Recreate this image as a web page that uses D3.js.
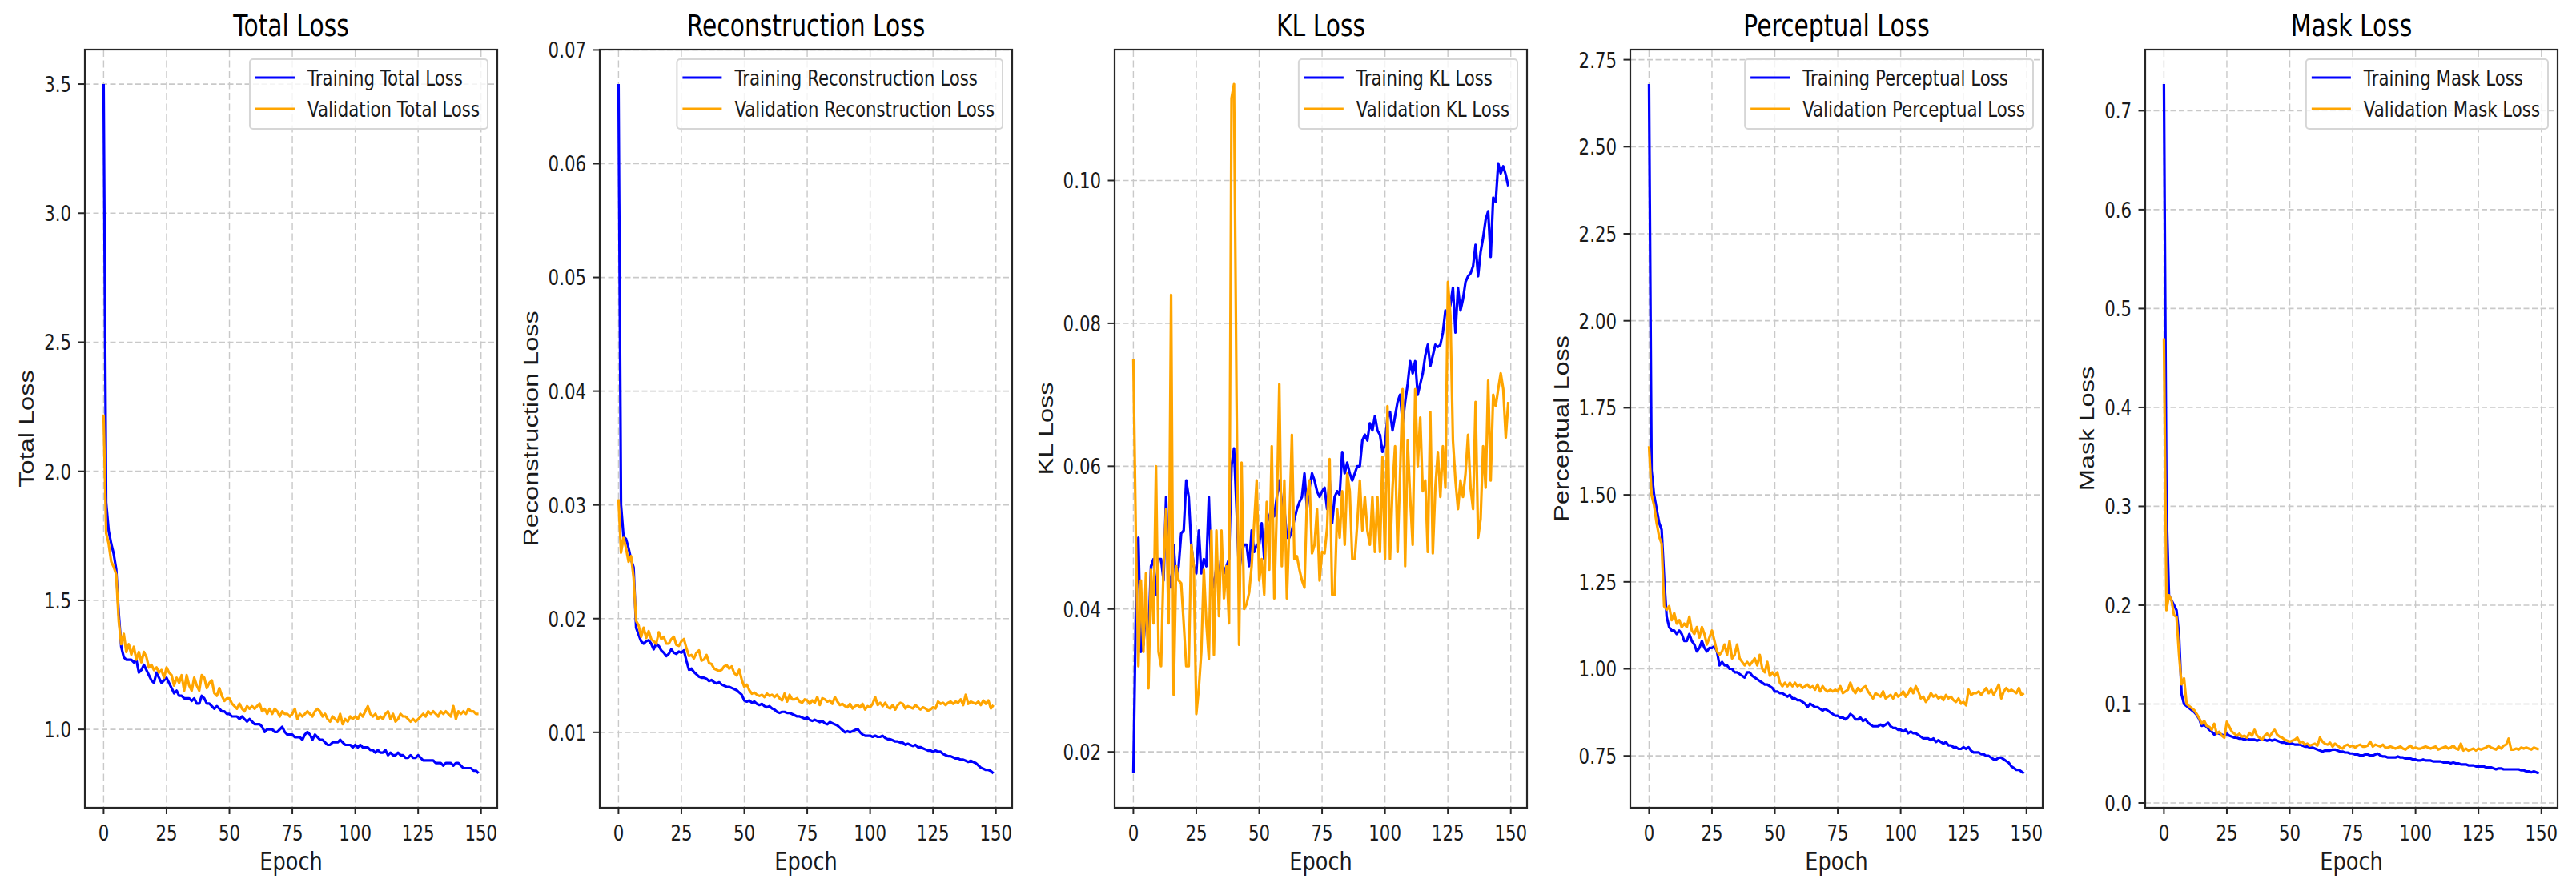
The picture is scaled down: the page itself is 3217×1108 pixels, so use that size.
<!DOCTYPE html>
<html>
<head>
<meta charset="utf-8">
<title>Training and validation losses</title>
<script src="https://d3js.org/d3.v7.min.js"></script>
<style>
  body { margin: 0; background: #fff; }
</style>
</head>
<body>
<svg width="3217" height="1108"></svg>
<script>
// values, one per epoch (0..149)
const totalTrain = [
  3.50, 1.88, 1.77, 1.72, 1.68, 1.62, 1.45, 1.32, 1.28, 1.27,
  1.27, 1.27, 1.26, 1.27, 1.22, 1.23, 1.25, 1.23, 1.21, 1.19,
  1.18, 1.22, 1.20, 1.18, 1.19, 1.20, 1.18, 1.16, 1.14, 1.15,
  1.13, 1.13, 1.12, 1.12, 1.12, 1.11, 1.12, 1.10, 1.10, 1.13,
  1.12, 1.10, 1.10, 1.09, 1.08, 1.09, 1.08, 1.07, 1.07, 1.06,
  1.06, 1.05, 1.05, 1.05, 1.04, 1.05, 1.04, 1.03, 1.04, 1.03,
  1.02, 1.02, 1.02, 1.01, 0.99, 1.00, 1.00, 1.00, 0.99, 0.99,
  1.00, 1.01, 0.99, 0.98, 0.98, 0.98, 0.97, 0.97, 0.97, 0.96,
  0.98, 0.99, 0.98, 0.96, 0.98, 0.97, 0.96, 0.96, 0.95, 0.94,
  0.94, 0.95, 0.95, 0.95, 0.96, 0.95, 0.94, 0.94, 0.94, 0.93,
  0.94, 0.93, 0.94, 0.93, 0.93, 0.93, 0.92, 0.92, 0.91, 0.92,
  0.91, 0.91, 0.92, 0.90, 0.91, 0.90, 0.90, 0.91, 0.90, 0.90,
  0.89, 0.89, 0.90, 0.89, 0.89, 0.90, 0.89, 0.88, 0.88, 0.88,
  0.88, 0.88, 0.87, 0.87, 0.87, 0.86, 0.87, 0.87, 0.87, 0.86,
  0.87, 0.87, 0.86, 0.85, 0.85, 0.85, 0.85, 0.84, 0.84, 0.83
];
const totalVal = [
  2.22, 1.76, 1.72, 1.65, 1.63, 1.60, 1.42, 1.33, 1.37, 1.30,
  1.33, 1.29, 1.32, 1.27, 1.30, 1.26, 1.30, 1.28, 1.24, 1.25,
  1.23, 1.24, 1.22, 1.23, 1.20, 1.24, 1.22, 1.21, 1.17, 1.20,
  1.18, 1.21, 1.15, 1.21, 1.17, 1.15, 1.20, 1.17, 1.15, 1.21,
  1.20, 1.16, 1.18, 1.19, 1.14, 1.13, 1.16, 1.13, 1.11, 1.12,
  1.12, 1.10, 1.09, 1.08, 1.10, 1.08, 1.07, 1.09, 1.08, 1.09,
  1.08, 1.09, 1.10, 1.07, 1.08, 1.06, 1.08, 1.06, 1.08, 1.07,
  1.05, 1.07, 1.06, 1.06, 1.05, 1.06, 1.08, 1.04, 1.06, 1.05,
  1.06, 1.07, 1.06, 1.05, 1.07, 1.08, 1.07, 1.05, 1.06, 1.04,
  1.03, 1.05, 1.04, 1.03, 1.06, 1.02, 1.04, 1.03, 1.05, 1.04,
  1.05, 1.04, 1.06, 1.05, 1.07, 1.09, 1.06, 1.05, 1.06, 1.04,
  1.05, 1.04, 1.06, 1.07, 1.04, 1.06, 1.03, 1.04, 1.06, 1.05,
  1.05, 1.04, 1.03, 1.04, 1.03, 1.04, 1.05, 1.06, 1.05, 1.07,
  1.06, 1.07, 1.06, 1.05, 1.07, 1.06, 1.07, 1.06, 1.05, 1.09,
  1.04, 1.07, 1.06, 1.07, 1.06, 1.08, 1.07, 1.07, 1.06, 1.06
];
const reconTrain = [
  0.0670, 0.0300, 0.0272, 0.0270, 0.0262, 0.0252, 0.0245, 0.0192, 0.0186, 0.0180,
  0.0178, 0.0180, 0.0181, 0.0178, 0.0173, 0.0178, 0.0176, 0.0172, 0.0170, 0.0167,
  0.0169, 0.0173, 0.0170, 0.0169, 0.0171, 0.0170, 0.0172, 0.0163, 0.0155, 0.0156,
  0.0153, 0.0151, 0.0149, 0.0148, 0.0148, 0.0147, 0.0145, 0.0146, 0.0144, 0.0143,
  0.0144, 0.0142, 0.0141, 0.0140, 0.0140, 0.0139, 0.0138, 0.0137, 0.0135, 0.0133,
  0.0128, 0.0127, 0.0128, 0.0126, 0.0127, 0.0125, 0.0124, 0.0125, 0.0123, 0.0122,
  0.0123, 0.0121, 0.0120, 0.0118, 0.0117, 0.0118, 0.0118, 0.0117, 0.0117, 0.0116,
  0.0115, 0.0114, 0.0114, 0.0113, 0.0112, 0.0113, 0.0111, 0.0110, 0.0111, 0.0110,
  0.0109, 0.0110, 0.0108, 0.0107, 0.0109, 0.0108, 0.0107, 0.0106, 0.0104, 0.0102,
  0.0100, 0.0101, 0.0100, 0.0101, 0.0102, 0.0103, 0.0100, 0.0098, 0.0097, 0.0097,
  0.0097, 0.0096, 0.0097, 0.0096, 0.0096, 0.0097, 0.0095, 0.0094, 0.0094, 0.0093,
  0.0092, 0.0092, 0.0091, 0.0091, 0.0089, 0.0090, 0.0089, 0.0088, 0.0089, 0.0087,
  0.0087, 0.0086, 0.0085, 0.0084, 0.0084, 0.0083, 0.0084, 0.0083, 0.0083, 0.0081,
  0.0080, 0.0079, 0.0079, 0.0078, 0.0077, 0.0077, 0.0076, 0.0076, 0.0075, 0.0074,
  0.0075, 0.0074, 0.0073, 0.0071, 0.0069, 0.0068, 0.0067, 0.0067, 0.0066, 0.0064
];
const reconVal = [
  0.0305, 0.0258, 0.0271, 0.0262, 0.0250, 0.0255, 0.0236, 0.0198, 0.0194, 0.0184,
  0.0192, 0.0183, 0.0189, 0.0182, 0.0180, 0.0178, 0.0188, 0.0182, 0.0184, 0.0178,
  0.0178, 0.0182, 0.0184, 0.0177, 0.0176, 0.0180, 0.0182, 0.0174, 0.0167, 0.0168,
  0.0165, 0.0170, 0.0172, 0.0163, 0.0164, 0.0168, 0.0161, 0.0160, 0.0156, 0.0155,
  0.0154, 0.0155, 0.0158, 0.0159, 0.0156, 0.0158, 0.0152, 0.0150, 0.0155, 0.0146,
  0.0140, 0.0142, 0.0137, 0.0134, 0.0135, 0.0133, 0.0132, 0.0133, 0.0131, 0.0134,
  0.0132, 0.0133, 0.0131, 0.0133, 0.0130, 0.0128, 0.0134, 0.0127, 0.0133, 0.0129,
  0.0129, 0.0130, 0.0127, 0.0126, 0.0129, 0.0128, 0.0125, 0.0128, 0.0126, 0.0131,
  0.0124, 0.0130, 0.0129, 0.0127, 0.0128, 0.0125, 0.0131, 0.0127, 0.0124, 0.0125,
  0.0123, 0.0122, 0.0125, 0.0121, 0.0123, 0.0124, 0.0122, 0.0125, 0.0120, 0.0123,
  0.0122, 0.0125, 0.0131, 0.0124, 0.0126, 0.0123, 0.0126, 0.0122, 0.0121, 0.0124,
  0.0120, 0.0124, 0.0126, 0.0125, 0.0121, 0.0123, 0.0122, 0.0121, 0.0124, 0.0122,
  0.0120, 0.0122, 0.0121, 0.0119, 0.0120, 0.0122, 0.0121, 0.0127, 0.0125, 0.0126,
  0.0124, 0.0126, 0.0127, 0.0125, 0.0127, 0.0126, 0.0129, 0.0124, 0.0133, 0.0125,
  0.0127, 0.0126, 0.0125, 0.0127, 0.0124, 0.0128, 0.0125, 0.0128, 0.0121, 0.0124
];
const klTrain = [
  0.0170, 0.0400, 0.0500, 0.0340, 0.0350, 0.0400, 0.0360, 0.0460, 0.0470, 0.0420,
  0.0470, 0.0470, 0.0440, 0.0557, 0.0450, 0.0430, 0.0490, 0.0440, 0.0460, 0.0506,
  0.0510, 0.0580, 0.0557, 0.0490, 0.0460, 0.0450, 0.0510, 0.0450, 0.0470, 0.0460,
  0.0557, 0.0450, 0.0430, 0.0460, 0.0440, 0.0480, 0.0450, 0.0460, 0.0470, 0.0600,
  0.0625, 0.0540, 0.0450, 0.0480, 0.0490, 0.0490, 0.0460, 0.0510, 0.0480, 0.0490,
  0.0490, 0.0520, 0.0470, 0.0520, 0.0530, 0.0540, 0.0530, 0.0557, 0.0580, 0.0550,
  0.0540, 0.0500, 0.0500, 0.0510, 0.0526, 0.0540, 0.0550, 0.0557, 0.0590, 0.0540,
  0.0570, 0.0590, 0.0580, 0.0565, 0.0557, 0.0565, 0.0570, 0.0540, 0.0580, 0.0520,
  0.0557, 0.0565, 0.0560, 0.0620, 0.0590, 0.0605, 0.0590, 0.0580, 0.0590, 0.0600,
  0.0600, 0.0636, 0.0644, 0.0636, 0.0660, 0.0650, 0.0670, 0.0650, 0.0644, 0.0620,
  0.0630, 0.0668, 0.0676, 0.0650, 0.0670, 0.0690, 0.0700, 0.0660, 0.0690, 0.0715,
  0.0747, 0.0730, 0.0747, 0.0700, 0.0715, 0.0730, 0.0755, 0.0770, 0.0740, 0.0755,
  0.0770, 0.0767, 0.0770, 0.0787, 0.0818, 0.0810, 0.0826, 0.0850, 0.0787, 0.0850,
  0.0818, 0.0834, 0.0858, 0.0866, 0.0870, 0.0880, 0.0910, 0.0866, 0.0900, 0.0920,
  0.0945, 0.0957, 0.0893, 0.0976, 0.0970, 0.1024, 0.1010, 0.1020, 0.1008, 0.0992
];
const klVal = [
  0.0750, 0.0500, 0.0320, 0.0440, 0.0340, 0.0450, 0.0289, 0.0455, 0.0380, 0.0600,
  0.0340, 0.0320, 0.0460, 0.0540, 0.0380, 0.0840, 0.0280, 0.0460, 0.0440, 0.0436,
  0.0380, 0.0320, 0.0320, 0.0490, 0.0460, 0.0253, 0.0289, 0.0340, 0.0455, 0.0380,
  0.0330, 0.0510, 0.0336, 0.0510, 0.0390, 0.0510, 0.0415, 0.0460, 0.0380, 0.1115,
  0.1135, 0.0700, 0.0350, 0.0605, 0.0400, 0.0407, 0.0423, 0.0460, 0.0520, 0.0580,
  0.0440, 0.0470, 0.0420, 0.0550, 0.0455, 0.0628, 0.0415, 0.0540, 0.0715, 0.0460,
  0.0580, 0.0415, 0.0520, 0.0644, 0.0470, 0.0474, 0.0455, 0.0440, 0.0430, 0.0557,
  0.0580, 0.0478, 0.0490, 0.0540, 0.0440, 0.0480, 0.0478, 0.0514, 0.0610, 0.0420,
  0.0420, 0.0540, 0.0500, 0.0565, 0.0490, 0.0590, 0.0565, 0.0470, 0.0470, 0.0520,
  0.0580, 0.0510, 0.0557, 0.0510, 0.0490, 0.0557, 0.0480, 0.0557, 0.0480, 0.0613,
  0.0470, 0.0684, 0.0470, 0.0570, 0.0628, 0.0480, 0.0590, 0.0708, 0.0460, 0.0636,
  0.0557, 0.0490, 0.0708, 0.0600, 0.0668, 0.0565, 0.0580, 0.0480, 0.0676, 0.0478,
  0.0570, 0.0620, 0.0557, 0.0628, 0.0570, 0.0858, 0.0810, 0.0636, 0.0580, 0.0540,
  0.0580, 0.0557, 0.0590, 0.0644, 0.0570, 0.0540, 0.0690, 0.0500, 0.0526, 0.0628,
  0.0570, 0.0720, 0.0580, 0.0700, 0.0684, 0.0708, 0.0730, 0.0708, 0.0640, 0.0690
];
const percTrain = [
  2.68, 1.57, 1.50, 1.46, 1.42, 1.40, 1.26, 1.15, 1.12, 1.11,
  1.11, 1.10, 1.11, 1.10, 1.08, 1.08, 1.10, 1.08, 1.07, 1.05,
  1.06, 1.08, 1.06, 1.05, 1.06, 1.06, 1.065, 1.05, 1.01, 1.02,
  1.01, 1.01, 1.00, 1.00, 0.99, 0.99, 0.985, 0.98, 0.975, 0.99,
  0.99, 0.98, 0.975, 0.97, 0.965, 0.96, 0.955, 0.955, 0.95, 0.945,
  0.935, 0.935, 0.93, 0.93, 0.925, 0.92, 0.925, 0.915, 0.915, 0.91,
  0.91, 0.905, 0.90, 0.89, 0.90, 0.895, 0.89, 0.89, 0.885, 0.88,
  0.885, 0.88, 0.875, 0.87, 0.865, 0.865, 0.86, 0.86, 0.855, 0.86,
  0.87, 0.865, 0.855, 0.855, 0.86, 0.85, 0.855, 0.845, 0.84, 0.835,
  0.835, 0.835, 0.84, 0.835, 0.84, 0.845, 0.835, 0.83, 0.83, 0.825,
  0.825, 0.82, 0.825, 0.815, 0.82, 0.815, 0.815, 0.81, 0.805, 0.80,
  0.80, 0.80, 0.795, 0.80, 0.79, 0.795, 0.79, 0.785, 0.79, 0.78,
  0.78, 0.775, 0.775, 0.77, 0.77, 0.775, 0.77, 0.775, 0.765, 0.76,
  0.76, 0.76, 0.755, 0.755, 0.75, 0.75, 0.745, 0.74, 0.74, 0.745,
  0.745, 0.74, 0.735, 0.73, 0.72, 0.715, 0.71, 0.71, 0.705, 0.70
];
const percVal = [
  1.64, 1.50, 1.47, 1.42, 1.38, 1.36, 1.18, 1.17, 1.18, 1.14,
  1.16, 1.13, 1.14, 1.12, 1.13, 1.12, 1.15, 1.11, 1.10, 1.12,
  1.09, 1.12, 1.10, 1.07, 1.09, 1.11, 1.08, 1.05, 1.04, 1.05,
  1.07, 1.04, 1.08, 1.03, 1.04, 1.07, 1.03, 1.02, 1.01, 1.02,
  1.01, 1.02, 1.03, 1.01, 1.04, 1.00, 0.99, 1.02, 0.98, 0.99,
  0.98, 0.99, 0.96, 0.95, 0.96, 0.95, 0.96, 0.95, 0.96, 0.95,
  0.955, 0.945, 0.95, 0.955, 0.945, 0.95, 0.94, 0.955, 0.935, 0.95,
  0.94, 0.935, 0.94, 0.935, 0.94, 0.935, 0.95, 0.93, 0.935, 0.94,
  0.96, 0.94, 0.93, 0.945, 0.935, 0.945, 0.95, 0.935, 0.925, 0.915,
  0.93, 0.925, 0.92, 0.935, 0.915, 0.92, 0.925, 0.915, 0.93, 0.92,
  0.925, 0.935, 0.92, 0.93, 0.945, 0.93, 0.95, 0.935, 0.915, 0.92,
  0.905, 0.915, 0.93, 0.92, 0.925, 0.915, 0.92, 0.91, 0.925, 0.915,
  0.92, 0.91, 0.905, 0.915, 0.90, 0.905, 0.895, 0.94, 0.925, 0.93,
  0.93, 0.935, 0.925, 0.935, 0.945, 0.93, 0.94, 0.925, 0.94, 0.955,
  0.915, 0.935, 0.945, 0.935, 0.94, 0.935, 0.93, 0.945, 0.925, 0.93
];
const maskTrain = [
  0.727, 0.300, 0.210, 0.205, 0.200, 0.195, 0.170, 0.110, 0.100, 0.098,
  0.096, 0.094, 0.092, 0.089, 0.085, 0.078, 0.079, 0.077, 0.074, 0.072,
  0.069, 0.071, 0.070, 0.069, 0.068, 0.070, 0.068, 0.067, 0.066, 0.066,
  0.065, 0.065, 0.064, 0.065, 0.064, 0.064, 0.064, 0.063, 0.064, 0.064,
  0.064, 0.063, 0.064, 0.063, 0.064, 0.063, 0.062, 0.061, 0.061, 0.060,
  0.060, 0.060, 0.059, 0.059, 0.059, 0.058, 0.057, 0.057, 0.056, 0.056,
  0.055, 0.054, 0.053, 0.052, 0.053, 0.053, 0.053, 0.054, 0.054, 0.053,
  0.052, 0.052, 0.051, 0.051, 0.050, 0.050, 0.049, 0.049, 0.048, 0.048,
  0.049, 0.049, 0.048, 0.048, 0.049, 0.050, 0.048, 0.047, 0.047, 0.046,
  0.046, 0.046, 0.046, 0.047, 0.046, 0.046, 0.045, 0.045, 0.045, 0.044,
  0.044, 0.043, 0.043, 0.044, 0.043, 0.043, 0.043, 0.042, 0.042, 0.042,
  0.042, 0.041, 0.041, 0.041, 0.040, 0.041, 0.040, 0.040, 0.039, 0.039,
  0.039, 0.038, 0.038, 0.038, 0.037, 0.037, 0.037, 0.037, 0.036, 0.036,
  0.036, 0.035, 0.034, 0.035, 0.035, 0.034, 0.034, 0.034, 0.034, 0.034,
  0.034, 0.034, 0.033, 0.033, 0.032, 0.032, 0.031, 0.032, 0.031, 0.030
];
const maskVal = [
  0.470, 0.195, 0.210, 0.205, 0.190, 0.188, 0.150, 0.120, 0.126, 0.100,
  0.098, 0.096, 0.094, 0.090, 0.086, 0.080, 0.083, 0.078, 0.077, 0.074,
  0.080, 0.070, 0.072, 0.068, 0.066, 0.082, 0.077, 0.072, 0.070, 0.068,
  0.070, 0.067, 0.068, 0.066, 0.071, 0.068, 0.074, 0.068, 0.066, 0.064,
  0.068, 0.070, 0.067, 0.071, 0.074, 0.069, 0.067, 0.066, 0.064, 0.063,
  0.062, 0.063, 0.064, 0.066, 0.061, 0.062, 0.059, 0.060, 0.058, 0.059,
  0.060, 0.058, 0.066, 0.062, 0.060, 0.059, 0.061, 0.057, 0.060, 0.058,
  0.056, 0.055, 0.058, 0.059, 0.057, 0.058, 0.056, 0.058, 0.059, 0.057,
  0.057, 0.058, 0.062, 0.057, 0.059, 0.058, 0.057, 0.059, 0.056, 0.056,
  0.057, 0.056, 0.055, 0.056, 0.057, 0.055, 0.054, 0.056, 0.058, 0.055,
  0.056, 0.055, 0.055, 0.056, 0.057, 0.056, 0.055, 0.056, 0.057, 0.054,
  0.055, 0.056, 0.057, 0.055, 0.056, 0.058, 0.055, 0.054, 0.060, 0.053,
  0.055, 0.053, 0.054, 0.055, 0.053, 0.055, 0.054, 0.055, 0.056, 0.058,
  0.056, 0.055, 0.054, 0.057, 0.055, 0.058, 0.059, 0.065, 0.054, 0.054,
  0.055, 0.054, 0.056, 0.055, 0.056, 0.055, 0.054, 0.056, 0.055, 0.054
];

const epochTicks = [0, 25, 50, 75, 100, 125, 150];
const totalTicks = [1.0, 1.5, 2.0, 2.5, 3.0, 3.5];
const reconTicks = [0.01, 0.02, 0.03, 0.04, 0.05, 0.06, 0.07];
const klTicks = [0.02, 0.04, 0.06, 0.08, 0.10];
const percTicks = [0.75, 1.00, 1.25, 1.50, 1.75, 2.00, 2.25, 2.50, 2.75];
const maskTicks = [0.0, 0.1, 0.2, 0.3, 0.4, 0.5, 0.6, 0.7];

const titles = ['Total Loss', 'Reconstruction Loss', 'KL Loss', 'Perceptual Loss', 'Mask Loss'];
const legendNames = ['Total', 'Reconstruction', 'KL', 'Perceptual', 'Mask'];

const panels = [
  {train: totalTrain, val: totalVal, ticks: totalTicks, fmt: '.1f'},
  {train: reconTrain, val: reconVal, ticks: reconTicks, fmt: '.2f'},
  {train: klTrain, val: klVal, ticks: klTicks, fmt: '.2f'},
  {train: percTrain, val: percVal, ticks: percTicks, fmt: '.2f'},
  {train: maskTrain, val: maskVal, ticks: maskTicks, fmt: '.1f'}
].map((p, i) => Object.assign(p, {title: titles[i], name: legendNames[i]}));

// layout (the source figure is stretched vertically, text is too)
const lefts = [106, 749, 1392, 2036, 2679];
const axW = 515, axTop = 62, axBottom = 1009;
const stretch = 1.27;
const sans = 'DejaVu Sans';
const tickSize = 21.3, labelSize = 25.6, titleSize = 29.8;
const blue = '#0000ff', orange = '#ffa500';

const svg = d3.select('svg');
svg.append('rect').attr('width', 3217).attr('height', 1108).attr('fill', '#fff');

function label(parent, x, y, str, size, opts = {}) {
  const g = parent.append('g')
    .attr('transform', `translate(${x},${y}) scale(1,${stretch})`);
  const t = g.append('text')
    .attr('font-family', opts.family || sans)
    .attr('font-size', size)
    .attr('text-anchor', opts.anchor || 'start')
    .attr('fill', opts.color || '#1a1a1a')
    .text(str);
  if (opts.rotate) t.attr('transform', 'rotate(-90)');
  return t;
}

panels.forEach((p, i) => {
  const left = lefts[i], right = left + axW;
  const epochs = p.train.map((d, j) => j);

  const lo = d3.min([...p.train, ...p.val]), hi = d3.max([...p.train, ...p.val]);
  const pad = (hi - lo) * 0.05;
  const y = d3.scaleLinear().domain([lo - pad, hi + pad]).range([axBottom, axTop]);
  const xPad = (epochs.length - 1) * 0.05;
  const x = d3.scaleLinear().domain([-xPad, epochs.length - 1 + xPad]).range([left, right]);

  const g = svg.append('g');

  // grid
  g.append('g').selectAll('line').data(p.ticks).join('line')
    .attr('x1', left).attr('x2', right)
    .attr('y1', d => y(d)).attr('y2', d => y(d))
    .attr('stroke', '#c9c9c9').attr('stroke-width', 1.7)
    .attr('stroke-dasharray', '7,3.5');
  g.append('g').selectAll('line').data(epochTicks).join('line')
    .attr('y1', axTop).attr('y2', axBottom)
    .attr('x1', d => x(d)).attr('x2', d => x(d))
    .attr('stroke', '#c9c9c9').attr('stroke-width', 1.4)
    .attr('stroke-dasharray', '9,4.5');

  // curves
  const line = d3.line().x((d, j) => x(epochs[j])).y(d => y(d));
  g.append('path').datum(p.train).attr('d', line)
    .attr('fill', 'none').attr('stroke', blue).attr('stroke-width', 3.2)
    .attr('stroke-linejoin', 'round');
  g.append('path').datum(p.val).attr('d', line)
    .attr('fill', 'none').attr('stroke', orange).attr('stroke-width', 3.2)
    .attr('stroke-linejoin', 'round');

  // frame
  g.append('rect').attr('x', left).attr('y', axTop)
    .attr('width', axW).attr('height', axBottom - axTop)
    .attr('fill', 'none').attr('stroke', '#262626').attr('stroke-width', 2.2);

  // y axis ticks + labels
  const fmt = d3.format(p.fmt);
  g.append('g').selectAll('line').data(p.ticks).join('line')
    .attr('x1', left - 8.5).attr('x2', left)
    .attr('y1', d => y(d)).attr('y2', d => y(d))
    .attr('stroke', '#262626').attr('stroke-width', 2);
  let minLeft = left;
  p.ticks.forEach(t => {
    const el = label(g, left - 17, y(t) + 9.9, fmt(t), tickSize, {anchor: 'end'});
    minLeft = Math.min(minLeft, left - 17 - el.node().getComputedTextLength());
  });

  // x axis ticks + labels
  g.append('g').selectAll('line').data(epochTicks).join('line')
    .attr('x1', d => x(d)).attr('x2', d => x(d))
    .attr('y1', axBottom).attr('y2', axBottom + 8)
    .attr('stroke', '#262626').attr('stroke-width', 2);
  epochTicks.forEach(t => label(g, x(t), axBottom + 40.5, String(t), tickSize, {anchor: 'middle'}));

  // axis labels and title
  label(g, (left + right) / 2, 1087, 'Epoch', labelSize, {anchor: 'middle'});
  label(g, minLeft - 13, (axTop + axBottom) / 2, p.title, labelSize,
    {anchor: 'middle', rotate: true, family: 'Liberation Sans'});
  label(g, (left + right) / 2, 45, p.title, titleSize, {anchor: 'middle', color: '#000'});

  // legend, upper right
  const lg = g.append('g');
  const box = lg.append('rect');
  const names = [`Training ${p.name} Loss`, `Validation ${p.name} Loss`];
  const colors = [blue, orange];
  let textW = 0;
  const rowY = [23, 62];
  const items = names.map((n, k) => {
    const t = label(lg, 0, 0, n, tickSize);
    textW = Math.max(textW, t.node().getComputedTextLength());
    return t;
  });
  const boxW = 7 + 49 + 16 + textW + 10, boxH = 87;
  const bx = right - 12 - boxW, by = axTop + 12;
  box.attr('x', bx).attr('y', by).attr('width', boxW).attr('height', boxH)
    .attr('rx', 4).attr('fill', 'rgba(255,255,255,0.8)')
    .attr('stroke', '#d6d6d6').attr('stroke-width', 2);
  items.forEach((t, k) => {
    lg.append('line')
      .attr('x1', bx + 7).attr('x2', bx + 56)
      .attr('y1', by + rowY[k]).attr('y2', by + rowY[k])
      .attr('stroke', colors[k]).attr('stroke-width', 3.2);
    d3.select(t.node().parentNode)
      .attr('transform', `translate(${bx + 72},${by + rowY[k] + 9.9}) scale(1,${stretch})`);
  });
});
</script>
</body>
</html>
